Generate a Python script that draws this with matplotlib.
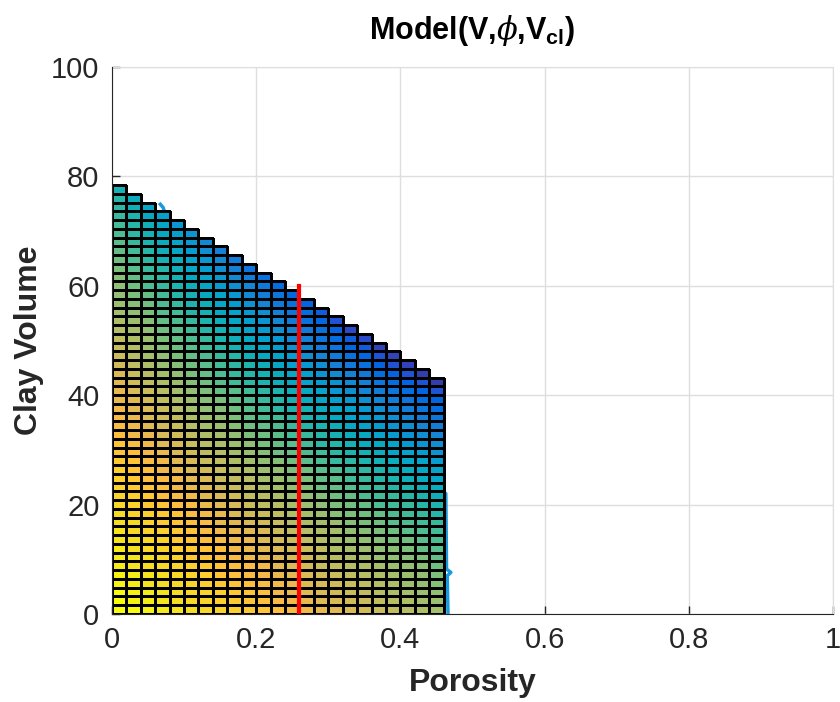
import numpy as np
import matplotlib
matplotlib.use('Agg')
import matplotlib.pyplot as plt
from matplotlib.colors import ListedColormap

# porosity / clay bins of the model grid
porosity_edges = [0.00, 0.02, 0.04, 0.06, 0.08, 0.10, 0.12, 0.14, 0.16, 0.18, 0.20, 0.22,
                  0.24, 0.26, 0.28, 0.30, 0.32, 0.34, 0.36, 0.38, 0.40, 0.42, 0.44, 0.46]
clay_step = 1.6
# top of each porosity column (clay volume)
column_top = [78.4, 76.8, 75.2, 73.6, 72.0, 70.4, 68.8, 67.2, 65.6, 64.0, 62.4, 60.8,
              59.2, 57.6, 56.0, 54.4, 52.8, 51.2, 49.6, 48.0, 46.4, 44.8, 43.2]

# model V(phi, Vcl) (fraction of the colour scale)
v_zero = 1.0
v_phi = 0.77
v_clay = 0.00363
v_clay2 = 4.56e-5
clay_phi_gain = 2.19

# red marker line
red_x = 0.26
red_y = [0, 60]

# cyan trace (mostly hidden behind the grid)
trace_x = [0.067, 0.071, 0.074, 0.30, 0.463, 0.464, 0.470, 0.465, 0.466]
trace_y = [74.9, 74.3, 73.0, 40.0, 22.0, 8.2, 7.6, 7.0, 0.0]

parula = ListedColormap([
    [0.2081, 0.1663, 0.5292], [0.2116, 0.1898, 0.5777], [0.2123, 0.2138, 0.6270],
    [0.2081, 0.2386, 0.6771], [0.1959, 0.2645, 0.7279], [0.1707, 0.2919, 0.7792],
    [0.1253, 0.3242, 0.8303], [0.0591, 0.3598, 0.8683], [0.0117, 0.3875, 0.8820],
    [0.0060, 0.4086, 0.8828], [0.0165, 0.4266, 0.8786], [0.0329, 0.4430, 0.8720],
    [0.0498, 0.4586, 0.8641], [0.0629, 0.4737, 0.8554], [0.0723, 0.4887, 0.8467],
    [0.0779, 0.5040, 0.8384], [0.0793, 0.5200, 0.8312], [0.0749, 0.5375, 0.8263],
    [0.0641, 0.5570, 0.8240], [0.0488, 0.5772, 0.8228], [0.0343, 0.5966, 0.8199],
    [0.0265, 0.6137, 0.8135], [0.0239, 0.6287, 0.8038], [0.0231, 0.6418, 0.7913],
    [0.0228, 0.6535, 0.7768], [0.0267, 0.6642, 0.7607], [0.0384, 0.6743, 0.7436],
    [0.0590, 0.6838, 0.7254], [0.0843, 0.6928, 0.7062], [0.1133, 0.7015, 0.6859],
    [0.1453, 0.7098, 0.6646], [0.1801, 0.7177, 0.6424], [0.2178, 0.7250, 0.6193],
    [0.2586, 0.7317, 0.5954], [0.3022, 0.7376, 0.5712], [0.3482, 0.7424, 0.5473],
    [0.3953, 0.7459, 0.5244], [0.4420, 0.7481, 0.5033], [0.4871, 0.7491, 0.4840],
    [0.5300, 0.7491, 0.4661], [0.5709, 0.7485, 0.4494], [0.6099, 0.7473, 0.4337],
    [0.6473, 0.7456, 0.4188], [0.6834, 0.7435, 0.4044], [0.7184, 0.7411, 0.3905],
    [0.7525, 0.7384, 0.3768], [0.7858, 0.7356, 0.3633], [0.8185, 0.7327, 0.3498],
    [0.8507, 0.7299, 0.3360], [0.8824, 0.7274, 0.3217], [0.9139, 0.7258, 0.3063],
    [0.9450, 0.7261, 0.2886], [0.9739, 0.7314, 0.2666], [0.9938, 0.7455, 0.2403],
    [0.9990, 0.7653, 0.2164], [0.9955, 0.7861, 0.1967], [0.9880, 0.8066, 0.1794],
    [0.9789, 0.8271, 0.1633], [0.9697, 0.8481, 0.1475], [0.9626, 0.8705, 0.1309],
    [0.9589, 0.8949, 0.1132], [0.9598, 0.9218, 0.0948], [0.9661, 0.9514, 0.0755],
    [0.9763, 0.9831, 0.0538]], name='parula')

plt.rcParams['font.family'] = ['Liberation Sans', 'DejaVu Sans']
plt.rcParams['mathtext.fontset'] = 'custom'
plt.rcParams['mathtext.rm'] = 'Liberation Sans:bold'
plt.rcParams['mathtext.bf'] = 'Liberation Sans:bold'
plt.rcParams['mathtext.it'] = 'DejaVu Serif:italic'

dark = (0.15, 0.15, 0.15)

fig = plt.figure(figsize=(8.4, 7.02), dpi=100)
ax = fig.add_axes([0.1333, 0.1254, 0.8584, 0.7792])

ax.plot(trace_x, trace_y, color=(0.1, 0.6, 0.86), lw=2.5, zorder=1)

# one pcolormesh per porosity column, so only filled cells get edges
for i in range(len(column_top)):
    n = int(round(column_top[i] / clay_step))
    clay_e = np.arange(n + 1) * clay_step
    phi_l = porosity_edges[i]
    u = clay_e[:-1] * (1 + clay_phi_gain * phi_l)
    vals = v_zero - v_phi * phi_l - v_clay * u - v_clay2 * u ** 2
    ax.pcolormesh([porosity_edges[i], porosity_edges[i + 1]], clay_e, vals[:, None],
                  cmap=parula, vmin=0, vmax=1, edgecolors='k', linewidth=1.0, zorder=2)

ax.plot([red_x, red_x], red_y, color='red', lw=3, zorder=3)

ax.set_xlim(0, 1)
ax.set_ylim(0, 100)
ax.set_xticks([0, 0.2, 0.4, 0.6, 0.8, 1])
ax.set_xticklabels(['0', '0.2', '0.4', '0.6', '0.8', '1'])
ax.set_yticks([0, 20, 40, 60, 80, 100])
ax.grid(True, color=(0.87, 0.87, 0.87), lw=1)
ax.set_axisbelow(True)
for s in ['top', 'right']:
    ax.spines[s].set_color((0.87, 0.87, 0.87))
for s in ['left', 'bottom']:
    ax.spines[s].set_color(dark)
    ax.spines[s].set_zorder(4)
ax.tick_params(direction='in', length=6, width=1, colors=dark, labelsize=21, pad=9)

ax.set_xlabel('Porosity', fontsize=23, fontweight='bold', color=dark, labelpad=10)
ax.set_ylabel('Clay Volume', fontsize=23, fontweight='bold', color=dark, labelpad=5)
ax.set_title(r'Model(V,$\it{\phi}$,V$_{\mathbf{cl}}$)', fontsize=22, fontweight='bold',
             color='black', pad=20)

fig.savefig('out.png', dpi=100)
